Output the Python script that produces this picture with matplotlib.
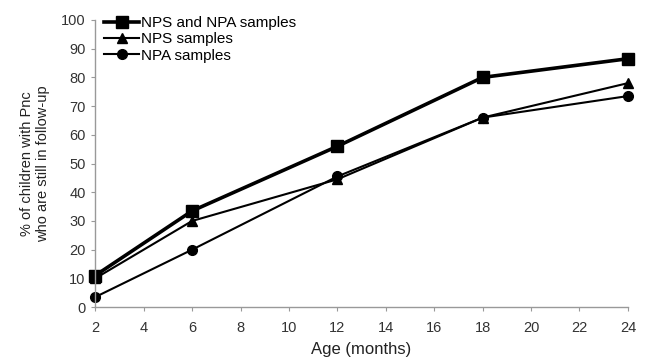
import matplotlib
matplotlib.use('Agg')
import matplotlib.pyplot as plt

plt.rcParams['font.family'] = ['Liberation Sans', 'DejaVu Sans']

age = [2, 6, 12, 18, 24]
nps_npa = [11, 33.5, 56, 80, 86.5]
nps = [10, 30, 44.5, 66, 78]
npa = [3.5, 20, 45.5, 66, 73.5]

fig = plt.figure(figsize=(6.48, 3.63), dpi=100)
ax = fig.add_axes([0.147, 0.154, 0.822, 0.791])

ax.plot(age, nps_npa, color='black', lw=2.6, marker='s', ms=9, label='NPS and NPA samples')
ax.plot(age, nps, color='black', lw=1.5, marker='^', ms=7, label='NPS samples')
ax.plot(age, npa, color='black', lw=1.5, marker='o', ms=7, label='NPA samples')

ax.set_xlim(2, 24)
ax.set_ylim(0, 100)
ax.set_xticks(range(2, 25, 2))
ax.set_yticks(range(0, 101, 10))

for s in ['top', 'right']:
    ax.spines[s].set_visible(False)
for s in ['left', 'bottom']:
    ax.spines[s].set_color('#999999')
    ax.spines[s].set_linewidth(1.0)
ax.tick_params(colors='#999999', labelcolor='#333333', labelsize=10.5, length=3)
ax.tick_params(axis='x', pad=7)
ax.tick_params(axis='y', pad=4)

ax.set_xlabel('Age (months)', fontsize=12, color='#222222', labelpad=5)
ax.set_ylabel('% of children with Pnc\nwho are still in follow-up', fontsize=10.5, color='#222222',
              labelpad=8)

ax.legend(loc='upper left', frameon=False, fontsize=11, handlelength=2.3,
          handletextpad=0.1, labelspacing=0.15, borderaxespad=0, bbox_to_anchor=(0.005, 1.035))

for line in ax.lines:
    line.set_clip_on(False)

fig.savefig('out.png', dpi=100)
